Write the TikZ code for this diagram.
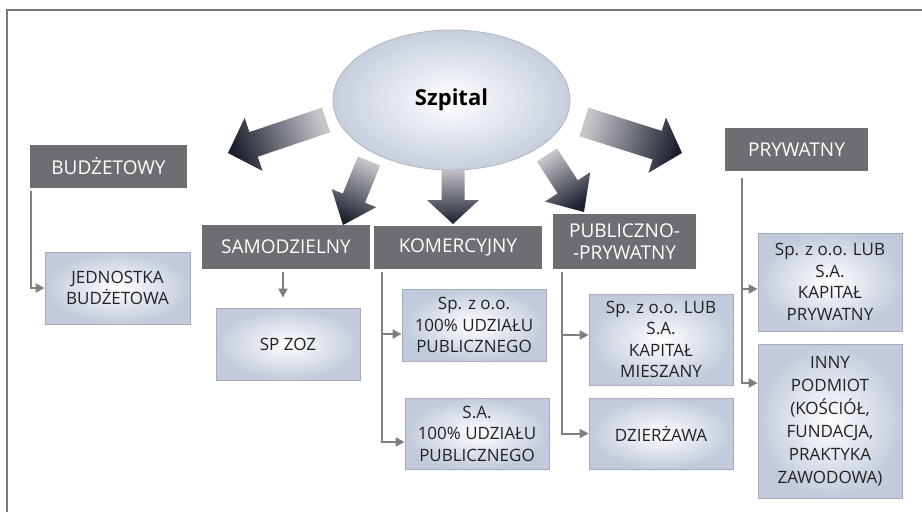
\documentclass[tikz,border=0pt]{standalone}
\usepackage{fontspec}
\setmainfont{Open Sans}
\usetikzlibrary{shapes.geometric,arrows.meta,calc}
\definecolor{hdr}{HTML}{6D6E71}
\definecolor{boxouter}{HTML}{C2CADB}
\definecolor{boxline}{HTML}{A3ABBC}
\definecolor{ellouter}{HTML}{C6CEDD}
\definecolor{elline}{HTML}{AEB5C4}
\definecolor{conncol}{HTML}{7F7F7F}
\definecolor{arrlight}{HTML}{C6C6CA}
\definecolor{arrdark}{HTML}{1B1F2E}
\definecolor{txt}{HTML}{222222}
\definecolor{framecol}{HTML}{7A7A7A}
\newcommand{\fatarr}[6]{%
  \coordinate (#1-b) at ($(#2)!#5!(#1)$);
  \shade[top color=arrlight, bottom color=arrdark, shading angle=#6]
   ($(#1)!#3!90:(#2)$) -- ($(#1-b)!#3!-90:(#1)$) -- ($(#1-b)!#4!-90:(#1)$) -- (#2)
   -- ($(#1-b)!#4!90:(#1)$) -- ($(#1-b)!#3!90:(#1)$) -- ($(#1)!#3!-90:(#2)$) -- cycle;
}
\begin{document}
\begin{tikzpicture}[x=1pt,y=-1pt,
  wh/.style 2 args={minimum width=#1, minimum height=#2},
  hbox/.style={fill=hdr, text=white, font=\fontsize{19}{22}\selectfont, inner sep=0pt, align=center},
  lbox/.style={inner color=white, outer color=boxouter, draw=boxline, line width=0.8pt, text=txt,
    font=\fontsize{17}{21.5}\selectfont, align=center, inner sep=0pt},
  conn/.style={draw=conncol, line width=2pt},
  carr/.style={conn, -{Triangle[length=9pt,width=9pt]}}]
\useasboundingbox (0,0) rectangle (922,512);
\fill[white] (0,0) rectangle (922,512);
% frame
\coordinate (fr1) at (922,10);
\coordinate (fr2) at (7,10);
\coordinate (fr3) at (7,512);
\draw[framecol, line width=1.5pt] (fr1) -- (fr2) -- (fr3);
% fat arrows
\coordinate (aLt) at (326,120); \coordinate (aLp) at (228,153);
\coordinate (aSt) at (369,161); \coordinate (aSp) at (343,225);
\coordinate (aKt) at (453,168); \coordinate (aKp) at (453,224);
\coordinate (aPt) at (547,155); \coordinate (aPp) at (584,212);
\coordinate (aRt) at (584,122); \coordinate (aRp) at (682,153);
\fatarr{aLt}{aLp}{13pt}{28pt}{27pt}{-71.4}
\fatarr{aSt}{aSp}{12pt}{24pt}{29pt}{-22.1}
\fatarr{aKt}{aKp}{11.5pt}{26pt}{24pt}{0}
\fatarr{aPt}{aPp}{12pt}{27pt}{30pt}{33}
\fatarr{aRt}{aRp}{15pt}{29pt}{26pt}{72.4}
% ellipse
\node[ellipse, minimum width=237, minimum height=140, inner sep=0pt, inner color=white,
  outer color=ellouter, draw=elline, line width=0.8pt,
  font=\bfseries\fontsize{22}{24}\selectfont, text=black] (szp) at (451.5,100) {Szpital};
% header boxes
\node[hbox, wh={157}{43}] (bud) at (108.5,166.5) {BUDŻETOWY};
\node[hbox, wh={143}{43}] (pry) at (796.5,149.5) {PRYWATNY};
\node[hbox, wh={168}{44}] (samo) at (286,247) {SAMODZIELNY};
\node[hbox, wh={168}{43}] (kom) at (458,247.5) {KOMERCYJNY};
\node[hbox, wh={143}{55}] (pub) at (624.5,241.5) {PUBLICZNO-\\-PRYWATNY};
% light boxes
\node[lbox, wh={145}{72}] (jed) at (117.5,288) {JEDNOSTKA\\BUDŻETOWA};
\node[lbox, wh={144}{72}] (spzoz) at (288,344) {SP ZOZ};
\node[lbox, wh={144}{72}] (kom1) at (474,325) {Sp. z o.o.\\100\% UDZIAŁU\\PUBLICZNEGO};
\node[lbox, wh={144}{71}] (kom2) at (477,433.5) {S.A.\\100\% UDZIAŁU\\PUBLICZNEGO};
\node[lbox, wh={144}{91}] (pub1) at (661,339.5) {Sp. z o.o. LUB\\S.A.\\KAPITAŁ\\MIESZANY};
\node[lbox, wh={144}{71}] (dzi) at (661,433.5) {DZIERŻAWA};
\node[lbox, wh={144}{98}] (pry1) at (830,282) {Sp. z o.o. LUB\\S.A.\\KAPITAŁ\\PRYWATNY};
\node[lbox, wh={144}{154}, font=\fontsize{17}{23}\selectfont] (inny) at (830,421)
  {INNY\\PODMIOT\\(KOŚCIÓŁ,\\FUNDACJA,\\PRAKTYKA\\ZAWODOWA)};
% connectors
\draw[carr] ($(bud.south west)+(1,3)$) |- (jed.west);
\draw[carr] ($(samo.south)+(-3,3)$) -- ($(spzoz.north)+(-5,-10)$);
\coordinate (kt) at ($(kom.south west)+(8,3)$);
\coordinate (k1) at ($(kom1.west)+(0,9)$);
\coordinate (k2) at ($(kom2.west)+(0,8.5)$);
\draw[carr] (kt) |- (k2);
\draw[carr] (kt |- k1) -- (k1);
\coordinate (pt) at ($(pub.south west)+(9,3)$);
\coordinate (p1) at ($(pub1.west)+(0,-4.5)$);
\coordinate (p2) at (dzi.west);
\draw[carr] (pt) |- (p2);
\draw[carr] (pt |- p1) -- (p1);
\coordinate (rt) at ($(pry.south west)+(17,7)$);
\coordinate (r1) at ($(pry1.west)+(0,7)$);
\coordinate (r2) at ($(inny.west)+(0,-38)$);
\draw[carr] (rt) |- (r2);
\draw[carr] (rt |- r1) -- (r1);
\end{tikzpicture}
\end{document}
